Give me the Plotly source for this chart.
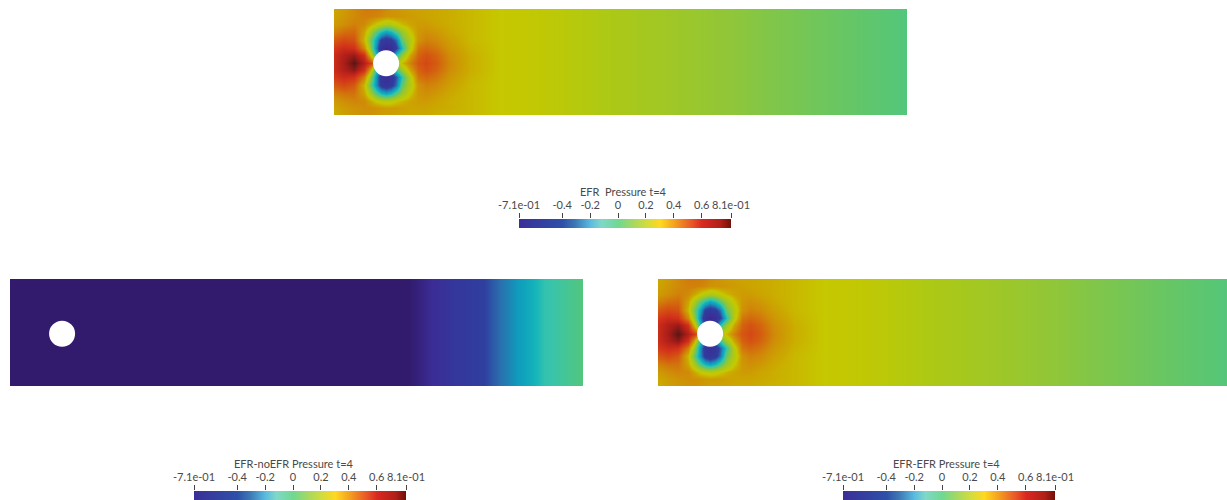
import plotly.graph_objects as go

ZMIN, ZMAX = -0.71, 0.81
W, H = 1227, 500

# Channel nodes (physical units)
x_nodes = [0, .038, .077, .115, .138, .161, .18, .2, .219, .238, .261, .292, .322, .353,
           .392, .445, .522, .637, .79, 1.02, 1.33, 1.635, 1.94, 2.2]
y_nodes_top_down = [.41, .383, .352, .321, .29, .259, .232, .2, .173, .146, .115, .084, .053, .027, 0]
far_field = [.27, .25, .19, .14, .08, .03, -.01]

z_efr_near = [
 [.33,.36,.40,.43,.43,.43,.42,.40,.38,.37,.36,.35,.34,.34,.33,.32,.30],
 [.34,.37,.40,.42,.42,.41,.40,.38,.38,.38,.37,.36,.35,.34,.33,.32,.30],
 [.36,.39,.42,.40,.34,.27,.22,.18,.20,.25,.30,.34,.36,.36,.34,.32,.30],
 [.42,.46,.47,.34,.17,.00,-.12,-.20,-.14,-.02,.12,.27,.37,.39,.37,.33,.30],
 [.50,.54,.52,.30,.05,-.18,-.42,-.48,-.44,-.30,.02,.20,.38,.42,.40,.35,.30],
 [.58,.62,.60,.40,.12,-.25,-.55,-.65,-.60,-.42,-.12,.22,.44,.47,.44,.37,.31],
 [.62,.68,.72,.60,.30,-.10,-.40,-.50,-.40,-.10,.12,.34,.48,.52,.48,.39,.32],
 [.62,.70,.79,.68,.58,.45,.20,.10,.10,.15,.30,.42,.51,.54,.50,.40,.32],
 [.62,.68,.73,.60,.34,-.10,-.30,-.35,-.30,-.05,.13,.34,.48,.52,.48,.39,.32],
 [.58,.62,.60,.42,.14,-.22,-.50,-.58,-.52,-.35,-.08,.22,.44,.47,.44,.37,.31],
 [.50,.54,.50,.30,.03,-.23,-.46,-.52,-.46,-.30,.02,.20,.38,.42,.40,.35,.30],
 [.42,.45,.45,.34,.17,-.02,-.14,-.20,-.14,-.02,.12,.27,.37,.39,.37,.33,.30],
 [.36,.39,.41,.40,.34,.27,.24,.22,.24,.27,.31,.34,.36,.36,.34,.32,.30],
 [.33,.36,.38,.39,.39,.38,.37,.36,.36,.36,.35,.34,.34,.34,.33,.32,.30],
 [.32,.35,.37,.38,.38,.37,.36,.35,.35,.34,.34,.33,.33,.33,.32,.31,.30],
]
y_nodes = y_nodes_top_down[::-1]
z_efr = [row + far_field for row in z_efr_near][::-1]

# EFR-noEFR field: varies only along the channel
x_noefr = [0, 1.0, 1.53, 1.62, 1.7, 1.82, 1.88, 1.97, 2.05, 2.2]
p_noefr = [-.71, -.71, -.71, -.62, -.5, -.40, -.30, -.20, -.08, -.01]
y_noefr = [0, .41]

# Colour maps
scale_values = [-.71, -.62, -.4, -.3, -.22, -.13, -.07, 0, .1, .2, .27, .33, .4, .5, .6, .7, .81]
scale_panel = ["#321b6d", "#3b2c96", "#2f3f9f", "#2a6fae", "#0f9dbc", "#14b5bb", "#38c4ac", "#58c674",
               "#8fc63a", "#b2c90f", "#c6c800", "#cba800", "#d08a08", "#d45a10", "#d2301a", "#a81c18", "#4a1512"]
bar_values = [-.71, -.4, -.31, -.2, -.12, 0, .11, .2, .3, .4, .52, .6, .73, .81]
bar_colors = ["#3a2f98", "#2e50a8", "#3d7ab5", "#5abbe0", "#80d8c8", "#70d890", "#a8d860", "#d0dc40",
              "#ffd820", "#f4a020", "#e85828", "#d82820", "#b02018", "#701008"]
bar_levels = bar_values

tick_values = [-.71, -.4, -.2, 0, .2, .4, .6, .81]
tick_labels = ["-7.1e-01", "-0.4", "-0.2", "0", "0.2", "0.4", "0.6", "8.1e-01"]

titles = ["EFR  Pressure t=4", "EFR-noEFR Pressure t=4", "EFR-EFR Pressure t=4"]

CHANNEL_LENGTH, CHANNEL_HEIGHT = 2.2, .41
HOLE_X, HOLE_Y, HOLE_R = .2, .2, .05


def cs(values, colors):
    return [[(v - ZMIN) / (ZMAX - ZMIN), c] for v, c in zip(values, colors)]


panel_scale = cs(scale_values, scale_panel)
bar_scale = cs(bar_values, bar_colors)

# (left, right, top, bottom) in pixels
panel_boxes = [(334, 907, 9, 115), (10, 583, 279, 386), (658, 1227, 279, 386)]
bar_boxes = [(519, 731, 219, 228), (194, 406, 491, 500), (843, 1055, 491, 500)]
title_xy = [(623.5, 191), (294, 463), (946.5, 463)]
panel_fields = [(x_nodes, y_nodes, z_efr), (x_noefr, y_noefr, [p_noefr, p_noefr]), (x_nodes, y_nodes, z_efr)]
font = "Lato, 'Open Sans', sans-serif"

fig = go.Figure()
layout = dict(width=W, height=H, margin=dict(l=0, r=0, t=0, b=0, autoexpand=False), paper_bgcolor="white",
              plot_bgcolor="white", showlegend=False, shapes=[], annotations=[])


def dom(a, b, total):
    return [a / total, b / total]


for i, (box, field) in enumerate(zip(panel_boxes, panel_fields)):
    n = i + 1
    xname = "x" if n == 1 else f"x{n}"
    yname = "y" if n == 1 else f"y{n}"
    fig.add_trace(go.Heatmap(x=field[0], y=field[1], z=field[2], zmin=ZMIN, zmax=ZMAX,
                             colorscale=panel_scale, zsmooth="best", showscale=False,
                             xaxis=xname, yaxis=yname, hoverinfo="skip"))
    l, r, t, b = box
    xmax = CHANNEL_LENGTH * (r - l) / 573
    layout[f"xaxis{'' if n == 1 else n}"] = dict(domain=dom(l, r, W), range=[0, xmax], visible=False, anchor=yname)
    layout[f"yaxis{'' if n == 1 else n}"] = dict(domain=[1 - b / H, 1 - t / H], range=[0, CHANNEL_HEIGHT],
                                                 visible=False, anchor=xname)
    layout["shapes"].append(dict(type="circle", xref=xname, yref=yname,
                                 x0=HOLE_X - HOLE_R, x1=HOLE_X + HOLE_R,
                                 y0=HOLE_Y - HOLE_R, y1=HOLE_Y + HOLE_R,
                                 fillcolor="white", line=dict(width=0), layer="above"))

for i, box in enumerate(bar_boxes):
    n = i + 4
    xname, yname = f"x{n}", f"y{n}"
    fig.add_trace(go.Heatmap(x=bar_levels, y=[0, 1], z=[bar_levels, bar_levels], zmin=ZMIN, zmax=ZMAX,
                             colorscale=bar_scale, zsmooth="best", showscale=False,
                             xaxis=xname, yaxis=yname, hoverinfo="skip"))
    l, r, t, b = box
    layout[f"xaxis{n}"] = dict(domain=dom(l, r, W), range=[ZMIN, ZMAX], side="top", anchor=yname,
                               tickmode="array", tickvals=tick_values, ticktext=tick_labels,
                               ticks="outside", ticklen=5, tickwidth=1, tickcolor="#444444",
                               tickfont=dict(family=font, size=11, color="#4a4a4a"), tickangle=0,
                               showgrid=False, zeroline=False, showline=False)
    layout[f"yaxis{n}"] = dict(domain=[1 - b / H, 1 - t / H], range=[0, 1], visible=False, anchor=xname)
    layout["annotations"].append(dict(text=titles[i], xref="paper", yref="paper", x=title_xy[i][0] / W,
                                      y=1 - title_xy[i][1] / H, xanchor="center", yanchor="middle", showarrow=False,
                                      font=dict(family=font, size=11, color="#4a4a4a")))

fig.update_layout(**layout)
fig.write_html("out.html", config={"displayModeBar": False},
               post_script="document.body.style.margin='0';document.body.style.overflow='hidden';")
